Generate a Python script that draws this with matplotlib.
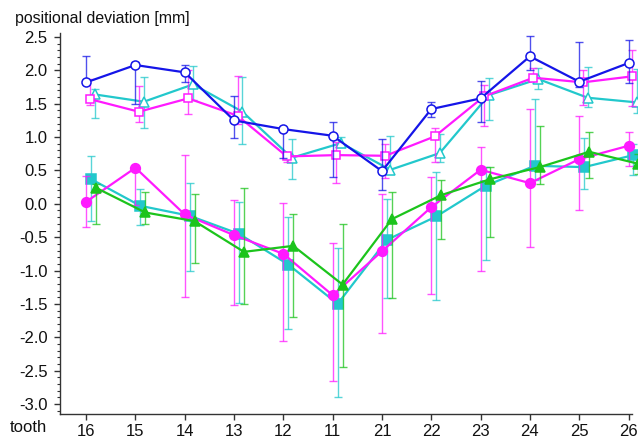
import numpy as np
import matplotlib.pyplot as plt
from matplotlib.ticker import MultipleLocator

plt.rcParams['font.family'] = ['Liberation Sans', 'DejaVu Sans']

teeth = ['16', '15', '14', '13', '12', '11', '21', '22', '23', '24', '25', '26']

# upper group (open markers): mean, lower end, upper end of the error bar
blue_mean = [1.82, 2.08, 1.97, 1.25, 1.12, 1.02, 0.49, 1.42, 1.58, 2.21, 1.83, 2.11]
blue_lo = [1.80, 1.49, 1.83, 0.99, 0.69, 0.40, 0.21, 1.30, 1.23, 2.01, 1.75, 1.81]
blue_hi = [2.22, 2.13, 2.08, 1.61, 1.13, 1.23, 0.97, 1.53, 1.84, 2.51, 2.43, 2.46]

msq_mean = [1.57, 1.38, 1.58, 1.32, 0.71, 0.73, 0.72, 1.01, 1.61, 1.89, 1.82, 1.91]
msq_lo = [1.48, 1.22, 1.34, 1.20, 0.62, 0.31, 0.39, 0.62, 1.17, 1.84, 1.48, 1.47]
msq_hi = [1.87, 1.76, 2.01, 1.92, 0.75, 0.93, 0.90, 1.14, 1.78, 2.03, 2.00, 2.31]

ctri_mean = [1.64, 1.53, 1.79, 1.38, 0.69, 0.91, 0.51, 0.76, 1.63, 1.87, 1.59, 1.52]
ctri_lo = [1.28, 1.13, 1.55, 0.89, 0.37, 0.85, 0.45, 0.62, 1.26, 1.72, 1.45, 1.36]
ctri_hi = [1.72, 1.90, 2.07, 1.90, 0.97, 1.00, 1.01, 1.05, 1.88, 2.03, 2.05, 2.02]

# lower group (filled markers)
mdot_mean = [0.03, 0.54, -0.16, -0.47, -0.75, -1.37, -0.71, -0.05, 0.51, 0.31, 0.67, 0.87]
mdot_lo = [-0.35, -0.02, -1.39, -1.52, -2.06, -2.66, -1.94, -1.35, -1.00, -0.64, -0.09, 0.57]
mdot_hi = [0.42, 0.56, 0.73, 0.06, 0.01, -0.59, 0.15, 0.40, 0.85, 1.42, 1.32, 1.07]

csq_mean = [0.37, -0.03, -0.18, -0.45, -0.91, -1.50, -0.54, -0.19, 0.27, 0.57, 0.55, 0.73]
csq_lo = [-0.26, -0.31, -1.00, -1.49, -1.88, -2.90, -1.41, -1.44, -0.84, 0.36, 0.22, 0.43]
csq_hi = [0.71, 0.22, 0.31, 0.03, -0.20, -0.66, 0.07, 0.48, 0.55, 1.57, 0.98, 0.90]

gtri_mean = [0.24, -0.13, -0.26, -0.72, -0.63, -1.21, -0.23, 0.13, 0.37, 0.55, 0.78, 0.60]
gtri_lo = [-0.30, -0.30, -0.88, -1.50, -1.69, -2.44, -1.41, -0.53, -0.49, 0.30, 0.38, 0.45]
gtri_hi = [0.30, 0.18, 0.15, 0.24, -0.16, -0.30, 0.18, 0.36, 0.55, 1.17, 1.08, 0.75]

BLUE = '#1515e8'
MAGENTA = '#ff1aff'
CYAN = '#22c8cc'
GREEN = '#1cc41c'

x = np.arange(len(teeth))

fig = plt.figure(figsize=(6.38, 4.38), dpi=100)
ax = fig.add_axes([60 / 638, 24 / 438, 572 / 638, 381 / 438])


def series(mean, lo, hi, dx, color, marker, ms, filled, z):
    mean = np.array(mean)
    yerr = [mean - np.array(lo), np.array(hi) - mean]
    ax.errorbar(x + dx, mean, yerr=yerr, fmt='none', ecolor=color, alpha=0.75,
                elinewidth=1.0, capsize=3, capthick=1.0, zorder=z, clip_on=False)
    ax.plot(x + dx, mean, color=color, lw=1.6, marker=marker, ms=ms,
            mfc=color if filled else 'white', mec=color, mew=1.1,
            zorder=z + 0.5, clip_on=False)


series(ctri_mean, ctri_lo, ctri_hi, 0.17, CYAN, '^', 6.5, False, 3)
series(msq_mean, msq_lo, msq_hi, 0.07, MAGENTA, 's', 6, False, 4)
series(blue_mean, blue_lo, blue_hi, 0.0, BLUE, 'o', 6.5, False, 5)

series(csq_mean, csq_lo, csq_hi, 0.10, CYAN, 's', 6.5, True, 3)
series(mdot_mean, mdot_lo, mdot_hi, 0.0, MAGENTA, 'o', 7, True, 4)
series(gtri_mean, gtri_lo, gtri_hi, 0.20, GREEN, '^', 7.5, True, 5)

ax.set_xlim(-0.53, 11.07)
ax.set_ylim(-3.15, 2.56)
ax.set_xticks(x)
ax.set_xticklabels(teeth)
ax.set_yticks(np.arange(-3.0, 2.51, 0.5))
ax.set_yticklabels([f'{v:.1f}' for v in np.arange(-3.0, 2.51, 0.5)])
ax.yaxis.set_minor_locator(MultipleLocator(0.1))

for side in ['top', 'right']:
    ax.spines[side].set_visible(False)
for side in ['left', 'bottom']:
    ax.spines[side].set_color('#333333')
    ax.spines[side].set_linewidth(1.0)

ax.tick_params(axis='both', which='major', direction='out', length=4,
               width=1.0, colors='#333333', labelsize=12, labelcolor='#111111')
ax.tick_params(axis='y', which='major', pad=5)
ax.tick_params(axis='x', which='major', pad=3)
ax.tick_params(axis='y', which='minor', direction='out', length=2, width=0.8,
               colors='#333333')

fig.text(15 / 638, 1 - 19 / 438, 'positional deviation [mm]', fontsize=11.4,
         ha='left', va='center', color='#111111')
fig.text(10 / 638, 1 - 428 / 438, 'tooth', fontsize=12, ha='left',
         va='center', color='#111111')

fig.savefig('out.png', dpi=100)
